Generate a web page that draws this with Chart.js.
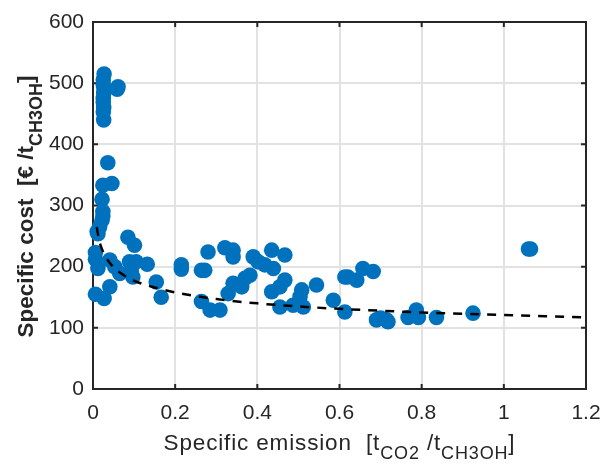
<!DOCTYPE html>
<html><head><meta charset="utf-8">
<script src="https://cdn.jsdelivr.net/npm/chart.js@4.4.0/dist/chart.umd.min.js"></script>
<style>html,body{margin:0;padding:0;background:#fff}#wrap{width:602px;height:464px}</style>
</head><body><div id="wrap"><canvas id="c" width="602" height="464"></canvas></div>
<script>
const xTicks=[0,0.2,0.4,0.6,0.8,1,1.2];
const yTicks=[0,100,200,300,400,500,600];
const emission=[0.027,0.061,0.059,0.025,0.027,0.025,0.026,0.025,0.025,0.026,0.025,0.026,
 0.036,0.046,0.024,0.022,0.024,0.024,0.022,0.016,0.010,0.012,
 0.085,0.101,0.006,0.006,0.012,0.041,0.053,0.065,0.089,0.105,0.093,0.132,0.097,0.154,0.041,0.166,0.006,0.027,
 0.215,0.215,0.264,0.272,0.280,0.264,
 0.321,0.341,0.341,0.390,0.402,0.435,0.467,0.418,0.439,0.382,0.370,0.341,0.362,0.329,0.467,0.455,0.435,
 0.508,0.504,0.544,0.585,0.455,0.487,0.512,0.285,0.309,
 0.613,0.620,0.642,0.657,0.682,0.613,0.690,0.718,0.714,0.700,0.767,0.787,0.792,0.836,0.925,1.060,1.065];
const cost=[515,494,490,505,490,497,483,475,469,460,453,440,
 370,336,333,310,290,283,276,265,257,254,
 248,235,223,212,197,211,200,189,208,208,192,204,183,175,167,150,155,148,
 203,196,194,194,224,143,
 231,227,216,216,208,227,219,203,197,186,181,173,167,156,178,167,159,
 162,151,170,145,134,137,134,129,129,
 183,183,178,197,192,126,113,110,113,116,117,129,117,117,124,229,229];
const fitEmission=[0.009,0.015,0.02,0.03,0.05,0.075,0.1,0.15,0.2,0.3,0.4,0.5,0.6,0.7,0.8,0.9,1.0,1.1,1.2];
const fitCost=[265,243,232,217,199,186,177,166,158,147,140,135,131,128,125,123,121,119,117];

const INK='#262626';
const FONT='"Liberation Sans", Arial, Helvetica, sans-serif';

function drawRich(ctx,parts,cx,base,weight,mainSize,subSize,spacing){
  const main=weight+' '+mainSize+'px '+FONT, sub=weight+' '+subSize+'px '+FONT;
  ctx.letterSpacing=spacing+'px';
  let w=0;
  parts.forEach(p=>{ctx.font=p.sub?sub:main; p.w=ctx.measureText(p.t).width; w+=p.w;});
  let x=cx-w/2;
  ctx.textAlign='left'; ctx.textBaseline='alphabetic'; ctx.fillStyle=INK;
  parts.forEach(p=>{ctx.font=p.sub?sub:main; ctx.fillText(p.t,x,base+(p.sub?9:0)); x+=p.w;});
  ctx.letterSpacing='0px';
}

const frame={id:'frame',
 beforeDatasetsDraw(chart){
  const {ctx,chartArea:a,scales:{x,y}}=chart;
  ctx.save(); ctx.strokeStyle=INK; ctx.lineWidth=2;
  ctx.strokeRect(a.left,a.top,a.right-a.left,a.bottom-a.top);
  ctx.beginPath();
  xTicks.forEach(v=>{const p=x.getPixelForValue(v);
    ctx.moveTo(p,a.bottom);ctx.lineTo(p,a.bottom-5);ctx.moveTo(p,a.top);ctx.lineTo(p,a.top+5);});
  yTicks.forEach(v=>{const p=y.getPixelForValue(v);
    ctx.moveTo(a.left,p);ctx.lineTo(a.left+5,p);ctx.moveTo(a.right,p);ctx.lineTo(a.right-5,p);});
  ctx.stroke(); ctx.restore();
 },
 afterDraw(chart){
  const {ctx,chartArea:a}=chart;
  ctx.save();
  drawRich(ctx,[{t:'Specific emission  [t'},{t:'CO2',sub:1},{t:' /t'},{t:'CH3OH',sub:1},{t:']'}],(a.left+a.right)/2,450,'normal',22.5,18,0.85);
  ctx.restore();
  ctx.save();
  ctx.translate(33,(a.top+a.bottom)/2+1); ctx.rotate(-Math.PI/2);
  drawRich(ctx,[{t:'Specific cost  [€ /t'},{t:'CH3OH',sub:1},{t:']'}],0,0,'bold',22.5,18,0);
  ctx.restore();
 }
};

new Chart(document.getElementById('c'),{
 data:{datasets:[
  {type:'line',data:fitEmission.map((v,i)=>({x:v,y:fitCost[i]})),borderColor:'#000',borderWidth:2.5,
   borderDash:[9,8],pointRadius:0,fill:false,cubicInterpolationMode:'monotone',clip:false},
  {type:'scatter',data:emission.map((v,i)=>({x:v,y:cost[i]})),backgroundColor:'#0072BD',borderColor:'#0072BD',
   pointRadius:7.8,borderWidth:0,clip:false}
 ]},
 options:{responsive:false,devicePixelRatio:1,animation:false,
  layout:{padding:{left:0,right:16,top:22,bottom:0}},
  plugins:{legend:{display:false},tooltip:{enabled:false}},
  scales:{
   x:{type:'linear',min:0,max:1.2,
    afterBuildTicks:s=>{s.ticks=xTicks.map(v=>({value:v}));},
    afterFit:s=>{s.height=75;s.paddingLeft=0;s.paddingRight=0;s.paddingTop=0;s.paddingBottom=0;},
    grid:{color:'#e2e2e2',lineWidth:2,drawTicks:false},border:{display:false},
    ticks:{padding:12,color:INK,font:{family:FONT,size:21},callback:v=>String(v),maxRotation:0,autoSkip:false}},
   y:{type:'linear',min:0,max:600,
    afterBuildTicks:s=>{s.ticks=yTicks.map(v=>({value:v}));},
    afterFit:s=>{s.width=93;s.paddingLeft=0;s.paddingRight=0;s.paddingTop=0;s.paddingBottom=0;},
    grid:{color:'#e2e2e2',lineWidth:2,drawTicks:false},border:{display:false},
    ticks:{padding:9,color:INK,font:{family:FONT,size:21},callback:v=>String(v),autoSkip:false}}
  }
 },
 plugins:[frame]
});
</script></body></html>
